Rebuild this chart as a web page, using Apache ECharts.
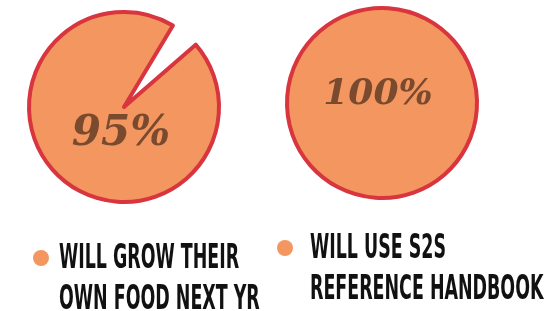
<!DOCTYPE html>
<html>
<head>
<meta charset="utf-8" />
<title>pies</title>
<script src="https://cdn.jsdelivr.net/npm/echarts@6/dist/echarts.min.js"></script>
<style>
  html, body { margin: 0; padding: 0; background: #fff; }
  #main { width: 547px; height: 311px; }
</style>
</head>
<body>
<div id="main"></div>
<script>
// data
const legendNames = ['WILL GROW THEIR\nOWN FOOD NEXT YR', 'WILL USE S2S\nREFERENCE HANDBOOK'];
const percentValues = [95, 100];

const fillColor = '#f4965f';
const edgeColor = '#d8353f';
const labelColor = '#7a4a2e';

const chart = echarts.init(document.getElementById('main'));

// layout per pie
const pieCenters = [[124, 107], [382, 103]];
const labelShift = [[-3, 27], [-4, -8]];
const labelSizes = [42, 36];
// legend layout: icon box and text lines (condensed headline look)
const legendBoxes = [{ left: 33, top: 250 }, { left: 277, top: 240 }];
const legendTextPos = [
  { x: 59, y: [259.5, 300.5] },
  { x: 310, y: [249, 290.5] }
];

function makePie(i) {
  const data = [{
    name: legendNames[i],
    value: percentValues[i],
    itemStyle: { color: fillColor, borderColor: edgeColor, borderWidth: 4, borderJoin: 'round' },
    label: { show: true }
  }];
  if (percentValues[i] < 100) {
    data.push({
      name: 'rest' + i,
      value: 100 - percentValues[i],
      itemStyle: { color: 'transparent', borderWidth: 0 },
      label: { show: false }
    });
  }
  return {
    type: 'pie',
    center: pieCenters[i],
    radius: 95,
    startAngle: 41,
    silent: true,
    avoidLabelOverlap: false,
    label: {
      position: 'center',
      formatter: '{c}%',
      color: labelColor,
      fontFamily: "'DejaVu Serif', serif",
      fontStyle: 'italic',
      fontWeight: 'bold',
      fontSize: labelSizes[i]
    },
    labelLayout: { dx: labelShift[i][0], dy: labelShift[i][1] },
    labelLine: { show: false },
    data: data
  };
}

const legends = legendNames.map(function (name, i) {
  return {
    data: [name],
    left: legendBoxes[i].left,
    top: legendBoxes[i].top,
    padding: 0,
    icon: 'circle',
    itemWidth: 16,
    itemHeight: 16,
    itemStyle: { color: fillColor, borderWidth: 0 },
    formatter: function () { return ''; },
    selectedMode: false
  };
});

// legend words, squeezed horizontally like the condensed headline font
const legendWords = [];
legendNames.forEach(function (name, i) {
  name.split('\n').forEach(function (line, j) {
    legendWords.push({
      type: 'text',
      x: legendTextPos[i].x,
      y: legendTextPos[i].y[j],
      scaleX: 0.57,
      silent: true,
      style: {
        text: line,
        fill: '#111',
        font: "bold 34px 'DejaVu Sans Condensed', 'DejaVu Sans', sans-serif",
        textAlign: 'left',
        textVerticalAlign: 'middle'
      }
    });
  });
});

chart.setOption({
  animation: false,
  legend: legends,
  graphic: legendWords,
  series: [makePie(0), makePie(1)]
});
</script>
</body>
</html>
